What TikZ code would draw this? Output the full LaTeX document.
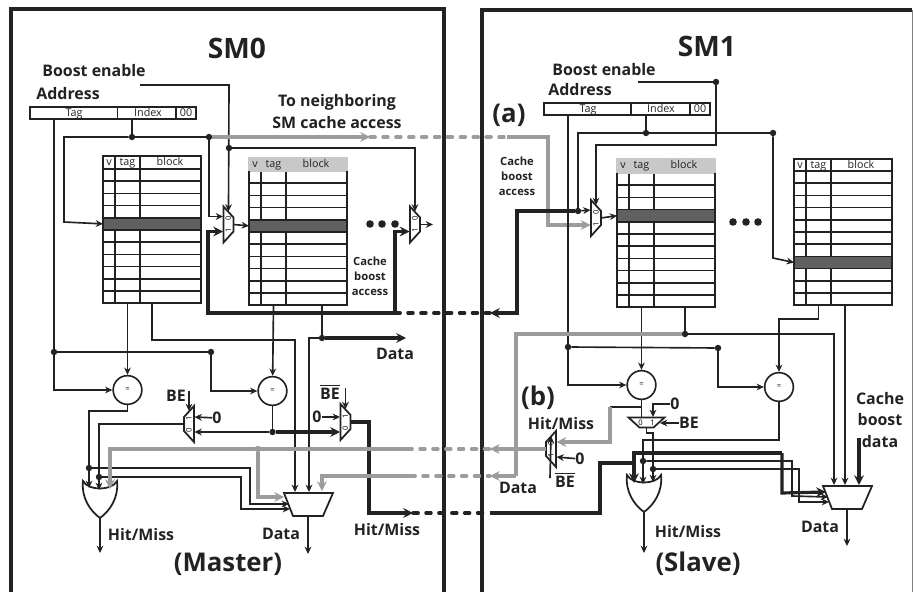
\documentclass[tikz,border=0pt]{standalone}
\usepackage{fontspec}
\setmainfont{Open Sans}
\usetikzlibrary{arrows.meta}
\definecolor{inkc}{HTML}{222222}
\definecolor{grayw}{HTML}{9C9C9C}
\definecolor{darkrow}{HTML}{606060}
\definecolor{headgray}{HTML}{C8C8C8}
\newcommand{\bebar}{\rlap{\rule[10.9pt]{17pt}{1.2pt}}BE}
\tikzset{
 wire/.style={line width=1.4pt,draw=inkc},
 heavy/.style={line width=2.7pt,draw=inkc},
 grayline/.style={line width=2.7pt,draw=grayw},
 gapped/.style={dash pattern=on 4.5pt off 6.5pt},
 tabline/.style={line width=1.5pt,draw=inkc},
 hdrplain/.style={tabline},
 hdrgray/.style={fill=headgray,draw=headgray,line width=1.5pt},
 jdot/.style={circle,fill=inkc,inner sep=0pt,minimum size=5.5pt},
 cmpnode/.style={circle,draw=inkc,fill=white,line width=1.4pt,inner sep=0pt,minimum size=24.5pt,font=\fontsize{6.5}{7}\selectfont},
 lab/.style={inner sep=0pt,text=inkc,font=\fontsize{13.6}{15}\selectfont\bfseries},
 small/.style={inner sep=0pt,anchor=base,text=inkc,font=\fontsize{9.2}{10}\selectfont},
 cachetxt/.style={inner sep=0pt,text=inkc,align=center,font=\fontsize{9.6}{12.8}\selectfont\bfseries},
 big/.style={inner sep=0pt,text=inkc,font=\fontsize{22}{24}\selectfont\bfseries},
}
% cache array: name, x, y, header height, dark row, header style
\newcommand{\cachetab}[6]{%
\begin{scope}[shift={(#2,#3)}]
\fill[white] (0,0) rectangle (98,{#4+134.2});
\draw[tabline] (12,0)--(12,{#4+134.2}) (37,0)--(37,{#4+134.2});
\foreach \r in {0,...,11} \draw[tabline] (0,{#4+\r*12.2})--++(98,0);
\path[#6] (0,0) rectangle (98,#4);
\draw[tabline] (0,#4)--(0,{#4+134.2})--(98,{#4+134.2})--(98,#4);
\filldraw[fill=darkrow,tabline] (0,{#4+#5*12.2}) rectangle ++(98,12.2);
\node[small] (#1-v) at (6,10) {v};
\node[small] (#1-t) at (24.5,10) {tag};
\node[small] (#1-b) at (67,10) {block};
\coordinate (#1-tag) at (24.5,{#4+134.2});
\coordinate (#1-row) at (0,{#4+(#5+.5)*12.2});
\end{scope}}
% mux: name, centre, rotation, digit a, digit b, digit rotation
\newcommand{\muxbox}[6]{%
\begin{scope}[shift={(#2)},rotate=#3]
\draw[wire,line width=1.5pt,fill=white] (-5,-18)--(5,-7)--(5,7)--(-5,18)--cycle;
\node[inner sep=0pt,rotate=#6,font=\fontsize{6.5}{6}\selectfont] (#1-0) at (0,-6) {#4};
\node[inner sep=0pt,rotate=#6,font=\fontsize{6.5}{6}\selectfont] (#1-1) at (0,6) {#5};
\coordinate (#1-a) at (-5.5,-8);
\coordinate (#1-b) at (-5.5,7);
\coordinate (#1-o) at (5,0);
\coordinate (#1-s) at (0,-13);
\coordinate (#1-t) at (0,13);
\end{scope}}
% or gate: name, top left corner
\newcommand{\orbox}[2]{%
\begin{scope}[shift={(#2)}]
\draw[wire,line width=1.5pt,fill=white] (0,0) .. controls (5,10) and (29,10) .. (34,0) .. controls (36,16) and (27,30) .. (17,37) .. controls (7,30) and (-2,16) .. (0,0)--cycle;
\coordinate (#1-o) at (17,37);
\end{scope}}
% data mux: name, top left corner
\newcommand{\datamux}[2]{%
\begin{scope}[shift={(#2)}]
\draw[wire,line width=1.5pt,fill=white] (0,0)--(49,0)--(39,23)--(9,23)--cycle;
\coordinate (#1-i) at (3,6);
\coordinate (#1-j) at (5,11);
\coordinate (#1-k) at (6,16);
\coordinate (#1-o) at (24,23);
\end{scope}}
\begin{document}
\begin{tikzpicture}[x=0.03cm,y=-0.03cm,>={Stealth[length=4pt 1.6,width=3pt 2]},line join=miter]
\useasboundingbox (0,0) rectangle (913,592);
% frames
\draw[inkc,line width=2.7pt] (11,592)--(11,9)--(444,9)--(444,592);
\draw[inkc,line width=2.7pt] (482,592)--(482,10)--(912,10);
\draw[gray,line width=.8pt] (912,10)--(912,592);
\node[big,font=\fontsize{24}{26}\selectfont\bfseries] (sm0) at (237,48) {SM0};
\node[big,font=\fontsize{24}{26}\selectfont\bfseries] (sm1) at (707,46) {SM1};
\node[big] (master) at (228,564) {(Master)};
\node[big] (slave) at (698,564) {(Slave)};
\node[big] (mrka) at (509,115) {(a)};
\node[big] (mrkb) at (538,398) {(b)};
\node[lab] (boost0) at (94,71) {Boost enable};
\node[lab] (addr0) at (68,94) {Address};
\node[lab] (boost1) at (604,70) {Boost enable};
\node[lab] (addr1) at (580,90) {Address};
\node[lab] (tosm) at (337,102) {To neighboring};
\node[lab] (tosm2) at (337,123) {SM cache access};
\node[cachetxt] (boost2) at (370,276) {Cache\\boost\\access};
\node[cachetxt] (boost3) at (517,176) {Cache\\boost\\access};
\node[lab,align=center,font=\fontsize{13.6}{18}\selectfont\bfseries] (boostd) at (880,420) {Cache\\boost\\data};
% address fields
\draw[tabline] (30,107) rectangle (196,119) (117.5,107)--(117.5,119) (176,107)--(176,119);
\node[small] (tag0) at (74,117) {Tag};
\node[small] (ind0) at (148,117) {Index};
\node[small] (zz0) at (186,117) {00};
\draw[tabline] (544,103) rectangle (710,115) (631,103)--(631,115) (690,103)--(690,115);
\node[small] (tag1) at (588,113) {Tag};
\node[small] (ind1) at (661,113) {Index};
\node[small] (zz1) at (700,113) {00};
% arrays
\cachetab{t1}{103}{156}{13}{4}{hdrplain}
\cachetab{t2}{249}{158}{13}{4}{hdrgray}
\cachetab{t3}{617}{159}{14}{3}{hdrgray}
\cachetab{t4}{794}{159}{12}{7}{hdrplain}
% muxes
\muxbox{m1}{228.5,224.5}{0}{0}{1}{90}
\muxbox{m2}{415,224.5}{0}{0}{1}{90}
\muxbox{m3}{596,218}{0}{0}{1}{90}
\muxbox{be0}{189,424}{180}{0}{1}{90}
\muxbox{bb0}{345.5,422}{0}{1}{0}{90}
\muxbox{mb}{551,449}{180}{1}{0}{90}
\muxbox{be1}{646.5,422.5}{-90}{1}{0}{0}
\orbox{or0}{83,481}
\orbox{or1}{627,475}
\datamux{dm0}{284,493}
\datamux{dm1}{823,486}
% comparators
\node[cmpnode] (c0) at (127.5,390) {=};
\node[cmpnode] (c1) at (272.5,391) {=};
\node[cmpnode] (c2) at (641.5,385) {=};
\node[cmpnode] (c3) at (779,387) {=};
% junctions
\node[jdot] (j1) at (132,137) {};
\node[jdot] (j2) at (209,137) {};
\node[jdot] (j3) at (229,148) {};
\node[jdot] (j4) at (54,352) {};
\node[jdot] (j5) at (211,352) {};
\node[jdot] (j6) at (322,338) {};
\node[jdot] (j7) at (272.5,432) {};
\node[jdot] (j8) at (89,468) {};
\node[jdot] (j9) at (99,477) {};
\node[circle,fill=grayw,inner sep=0pt,minimum size=5.5pt] (j10) at (258,449) {};
\node[jdot] (k1) at (646,133) {};
\node[jdot] (k2) at (773,133) {};
\node[jdot] (k3) at (716,82) {};
\node[jdot] (k4) at (578,211) {};
\node[jdot] (k5) at (568,347) {};
\node[jdot] (k6) at (718,348) {};
\node[jdot] (k7) at (685,334) {};
\node[jdot] (k8) at (643,461) {};
\node[jdot] (k9) at (653,469) {};
\foreach \x/\n in {370/a,382/b,395/c} \node[jdot,minimum size=6.5pt] (d\n) at (\x,224) {};
\foreach \x/\n in {733/a,746/b,758/c} \node[jdot,minimum size=6.5pt] (e\n) at (\x,222) {};
% free ends
\coordinate (pe0) at (140,85);
\coordinate (pe1) at (638,82);
\coordinate (ta0) at (54,119);
\coordinate (ta1) at (568,115);
\coordinate (in0) at (132,119);
\coordinate (in1) at (646,115);
\coordinate (t1b) at (152,303);
\coordinate (t2b) at (322,305);
\coordinate (t3b) at (685,307);
\coordinate (t4b) at (845,305);
\coordinate (gx0) at (370,137);
\coordinate (gx1) at (507,137);
\coordinate (hx0) at (395,313);
\coordinate (hx1) at (490,313);
\coordinate (hit0) at (413,513);
\coordinate (hit1) at (490,513);
\coordinate (gy0) at (407,449);
\coordinate (gy1) at (490,449);
\coordinate (gz0) at (410,476);
\coordinate (gz1) at (490,476);
% SM0 wires
\draw[wire,->] (pe0)--(229,85)--(m1-s);
\draw[wire,->] (j3)--(415,148)--(m2-s);
\draw[wire,->] (ta0)--(54,390)--(c0);
\draw[wire] (j4)--(j5);
\draw[wire,->] (j5)--(211,391)--(c1);
\draw[wire] (in0)--(j1);
\draw[wire,->] (j1)--(64,137)--(64,222)--(t1-row);
\draw[wire] (j1)--(j2);
\draw[wire,->] (j2)--(209,216.5)--(m1-a);
\draw[wire,->] (m1-o)--(t2-row);
\draw[wire,->] (m2-o)--(433,224.5);
\draw[wire,->] (t1-tag)--(c0);
\draw[wire,->] (t2-tag)--(c1);
\draw[wire,->] (t1b)--(152,340)--(295,340)--(295,492);
\draw[wire] (t2b)--(j6);
\draw[wire,->] (j6)--(309,338)--(309,492);
\draw[heavy,->] (j6)--(406,338);
\node[lab] (data0) at (395,354) {Data};
\draw[wire,->] (c0)--(127.5,411)--(89,411)--(89,488);
\draw[wire,->] (be0-o)--(99,424)--(99,490);
\draw[wire,->] (j8)--(250,468)--(250,504)--(dm0-j);
\draw[wire,->] (j9)--(241,477)--(241,509)--(dm0-k);
\draw[wire] (c1)--(j7);
\draw[wire,->] (j7)--(be0-a);
\draw[heavy,->] (j7)--(340,432);
\draw[heavy,->] (bb0-o)--(369,422)--(369,513)--(hit0);
\draw[heavy,gapped,line cap=round] (hit0)--(hit1);
\draw[wire,->] (dm0-o)--(308,554);
\draw[wire,->] (or0-o)--(100,553);
\node[lab] (hm0) at (141,535) {Hit/Miss};
\node[lab] (data1) at (281,534) {Data};
\node[lab] (hm1) at (387,530) {Hit/Miss};
\node[lab] (be0t) at (176,396) {BE};
\coordinate (be0c) at (189,391);
\draw[wire,->] (be0c)--(be0-t);
\node[lab] (zero0) at (217,418) {0};
\draw[wire,->] (zero0)--(be0-b);
\node[lab,anchor=base] (bb0t) at (330,399) {\bebar};
\coordinate (bb0c) at (345.5,388);
\draw[wire,->] (bb0c)--(bb0-s);
\node[lab] (zero1) at (317,417) {0};
\draw[wire,->] (zero1)--(340,417);
% cache boost return
\draw[heavy,->] (hx0)--(208,313)--(208,231.5)--(m1-b);
\draw[heavy,->] (hx0)--(395,231.5)--(m2-b);
\draw[heavy,gapped,line cap=round] (hx0)--(hx1);
% gray links
\draw[grayline,->] (j2)--(gx0);
\draw[grayline,gapped,line cap=round] (gx0)--(gx1);
\draw[grayline,->] (gx1)--(548,137)--(548,225)--(m3-b);
\draw[grayline,->] (gy0)--(110,449)--(110,489);
\draw[grayline,->] (j10)--(258,497)--(284,497);
\draw[grayline,gapped,line cap=round] (gy0)--(gy1);
\draw[grayline,->] (gz0)--(322,476)--(322,491);
\draw[grayline,gapped,line cap=round] (gz0)--(gz1);
% SM1 wires
\draw[wire] (pe1)--(k3);
\draw[wire,->] (k3)--(716,145)--(596,145)--(m3-s);
\draw[wire] (ta1)--(k5);
\draw[wire,->] (k5)--(568,385)--(c2);
\draw[wire] (k5)--(k6);
\draw[wire,->] (k6)--(718,387)--(c3);
\draw[wire] (in1)--(k1);
\draw[wire] (k1)--(578,133)--(k4);
\draw[wire] (k1)--(k2);
\draw[wire,->] (k2)--(773,258)--(t4-row);
\draw[wire,->] (k4)--(m3-a);
\draw[wire,->] (m3-o)--(t3-row);
\draw[heavy,->] (k4)--(517,211)--(517,313)--(hx1);
\draw[wire,->] (t3-tag)--(c2);
\draw[wire] (t3b)--(k7);
\draw[wire,->] (k7)--(834,334)--(834,485);
\draw[grayline] (k7)--(516,334)--(516,476);
\draw[grayline,->] (516,476)--(gz1);
\draw[wire,->] (t4-tag)--(818.5,319)--(779,319)--(c3);
\draw[wire,->] (t4b)--(845,485);
\draw[heavy,->] (859,438)--(859,485);
\draw[wire] (c2)--(641.5,417);
\draw[wire] (641.5,407)--(610,407);
\draw[grayline,->] (610,407)--(610,442)--(mb-b);
\draw[grayline,->] (mb-o)--(gy1);
\node[lab] (zero2) at (675,404) {0};
\draw[wire,->] (zero2)--(653,404)--(653,417);
\node[lab] (be1t) at (689,423) {BE};
\draw[wire,->] (be1t)--(660,423);
\draw[wire] (be1-o)--(646.5,433)--(653,433)--(k9);
\draw[wire,->] (k9)--(653,482);
\draw[wire] (c3)--(779,440)--(643,440)--(k8);
\draw[wire,->] (k8)--(643,484);
\draw[wire,->] (k8)--(792,461)--(792,496)--(dm1-j);
\draw[wire,->] (k9)--(799,469)--(799,502)--(dm1-k);
\draw[heavy] (hit1)--(600,513)--(600,463)--(634,463);
\draw[heavy,->] (782,453)--(634,453)--(634,483);
\draw[heavy,->] (782,453)--(782,493)--(dm1-i);
\draw[wire,->] (or1-o)--(644,553);
\draw[wire,->] (dm1-o)--(847,546);
\node[lab] (hm2) at (688,532) {Hit/Miss};
\node[lab] (data2) at (820,527) {Data};
\node[lab] (hm3) at (561,424) {Hit/Miss};
\node[lab] (data3) at (518,488) {Data};
\node[lab] (zero3) at (580,459) {0};
\draw[wire,->] (zero3)--(mb-a);
\node[lab,anchor=base] (bb1t) at (565,487) {\bebar};
\coordinate (bb1c) at (550,478);
\draw[wire,->] (bb1c)--(mb-t);
\end{tikzpicture}
\end{document}
